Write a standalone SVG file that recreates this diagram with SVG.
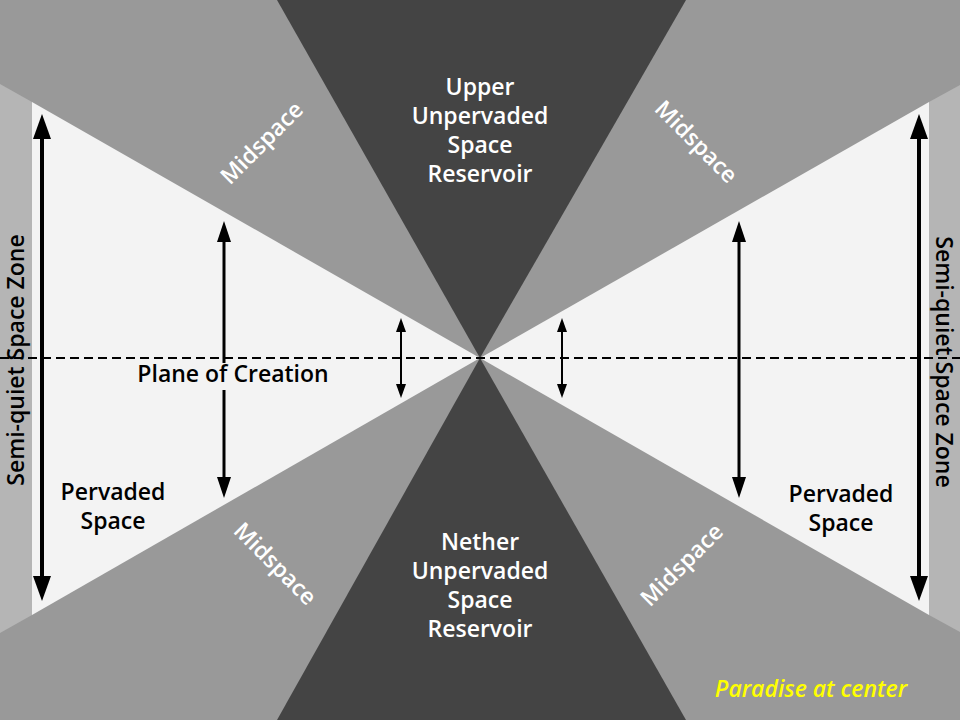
<svg xmlns="http://www.w3.org/2000/svg" width="960" height="720" viewBox="0 0 960 720">
<style>
.lbl{font-family:"Open Sans","DejaVu Sans",sans-serif;font-size:23px;font-weight:600;text-anchor:middle;}
.w{fill:#ffffff;}
.b{fill:#000000;}
.ln{stroke:#000;fill:none;}
.hd{fill:#000;}
</style>
<g id="background">
<rect x="0" y="0" width="960" height="720" fill="#999999"/>
</g>
<g id="semi-quiet-left">
<polygon points="0,84 32,102 32,615 0,633" fill="#b5b5b5"/>
<text class="lbl b" transform="translate(15,360) rotate(-90)" dominant-baseline="central">Semi-quiet Space Zone</text>
</g>
<g id="semi-quiet-right">
<polygon points="929,102 960,85 960,632 929,615" fill="#b5b5b5"/>
<text class="lbl b" transform="translate(945,362) rotate(90)" dominant-baseline="central">Semi-quiet Space Zone</text>
</g>
<g id="pervaded-left">
<polygon points="480,358 32,102 32,615" fill="#f3f3f3"/>
</g>
<g id="pervaded-right">
<polygon points="480,358 929,102 929,615" fill="#f3f3f3"/>
</g>
<g id="upper-reservoir">
<polygon points="277,0 686,0 480,358" fill="#444444"/>
<text class="lbl w" x="480" y="95">Upper</text>
<text class="lbl w" x="480" y="124">Unpervaded</text>
<text class="lbl w" x="480" y="153">Space</text>
<text class="lbl w" x="480" y="182">Reservoir</text>
</g>
<g id="nether-reservoir">
<polygon points="277,720 686,720 480,358" fill="#444444"/>
<text class="lbl w" x="480" y="550">Nether</text>
<text class="lbl w" x="480" y="579">Unpervaded</text>
<text class="lbl w" x="480" y="608">Space</text>
<text class="lbl w" x="480" y="637">Reservoir</text>
</g>
<g id="midspace-labels">
<text class="lbl w" transform="translate(261,142) rotate(-45)" dominant-baseline="central">Midspace</text>
<text class="lbl w" transform="translate(697,141) rotate(45)" dominant-baseline="central">Midspace</text>
<text class="lbl w" transform="translate(276,563) rotate(45)" dominant-baseline="central">Midspace</text>
<text class="lbl w" transform="translate(681,564) rotate(-45)" dominant-baseline="central">Midspace</text>
</g>
<g id="connectors">
<line class="ln" x1="0" y1="358" x2="960" y2="358" stroke-width="2" stroke-dasharray="9 5"/>
<rect x="132" y="364" width="202" height="26" fill="#f3f3f3"/>
<!-- long arrows -->
<line class="ln" x1="42" y1="135" x2="42" y2="580" stroke-width="4"/>
<polygon class="hd" points="42,114 33,139 51,139"/>
<polygon class="hd" points="42,601 33,576 51,576"/>
<line class="ln" x1="919" y1="135" x2="919" y2="580" stroke-width="4"/>
<polygon class="hd" points="919,114 910,139 928,139"/>
<polygon class="hd" points="919,601 910,576 928,576"/>
<!-- middle arrows -->
<line class="ln" x1="224" y1="238" x2="224" y2="363" stroke-width="3"/>
<line class="ln" x1="224" y1="390" x2="224" y2="482" stroke-width="3"/>
<polygon class="hd" points="224,221 217,242 231,242"/>
<polygon class="hd" points="224,498 217,477 231,477"/>
<line class="ln" x1="739" y1="238" x2="739" y2="482" stroke-width="3"/>
<polygon class="hd" points="739,221 732,242 746,242"/>
<polygon class="hd" points="739,498 732,477 746,477"/>
<!-- small arrows -->
<line class="ln" x1="401" y1="328" x2="401" y2="388" stroke-width="2"/>
<polygon class="hd" points="401,318 396,332 406,332"/>
<polygon class="hd" points="401,398 396,384 406,384"/>
<line class="ln" x1="562" y1="328" x2="562" y2="388" stroke-width="2"/>
<polygon class="hd" points="562,318 557,332 567,332"/>
<polygon class="hd" points="562,398 557,384 567,384"/>
</g>
<g id="plane-of-creation">
<text class="lbl b" x="233" y="382">Plane of Creation</text>
</g>
<g id="pervaded-labels">
<text class="lbl b" x="113" y="500">Pervaded</text>
<text class="lbl b" x="113" y="529">Space</text>
<text class="lbl b" x="841" y="502">Pervaded</text>
<text class="lbl b" x="841" y="531">Space</text>
</g>
<g id="paradise">
<text class="lbl" x="811" y="697" fill="#ffff00" font-style="italic" font-size="24">Paradise at center</text>
</g>
</svg>
